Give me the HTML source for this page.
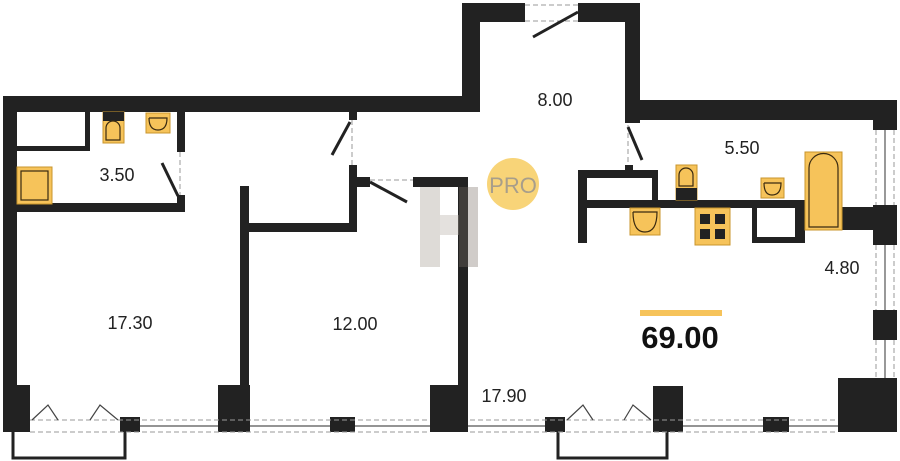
<!DOCTYPE html>
<html><head><style>body{margin:0;background:#fff}svg{display:block}text{font-family:"Liberation Sans",sans-serif;fill:#222}</style></head><body>
<svg width="900" height="461" viewBox="0 0 900 461" xmlns="http://www.w3.org/2000/svg">
<g fill="#222">
<rect x="3" y="96" width="477" height="16"/>
<rect x="3" y="96" width="14" height="336"/>
<rect x="462" y="3" width="18" height="109"/>
<rect x="462" y="3" width="63" height="19"/>
<rect x="578" y="3" width="62" height="19"/>
<rect x="625" y="3" width="15" height="120"/>
<rect x="625" y="100" width="272" height="20"/>
<rect x="873" y="100" width="24" height="30"/>
<rect x="873" y="205" width="24" height="40"/>
<rect x="873" y="310" width="24" height="30"/>
<rect x="838" y="378" width="59" height="54"/>
<rect x="3" y="385" width="27" height="47"/>
<rect x="120" y="417" width="20" height="15"/>
<rect x="218" y="385" width="32" height="47"/>
<rect x="330" y="417" width="25" height="15"/>
<rect x="430" y="385" width="38" height="47"/>
<rect x="545" y="417" width="20" height="15"/>
<rect x="653" y="386" width="30" height="46"/>
<rect x="763" y="417" width="26" height="15"/>
<rect x="240" y="186" width="9" height="200"/>
<rect x="240" y="223" width="117" height="9"/>
<rect x="349" y="112" width="8" height="8"/>
<rect x="349" y="165" width="8" height="67"/>
<rect x="349" y="177" width="21" height="10"/>
<rect x="413" y="177" width="55" height="10"/>
<rect x="458" y="177" width="10" height="208"/>
<rect x="17" y="203" width="168" height="9"/>
<rect x="177" y="112" width="8" height="40"/>
<rect x="177" y="195" width="8" height="17"/>
<rect x="17" y="146" width="73" height="5"/>
<rect x="85" y="112" width="5" height="39"/>
<rect x="625" y="165" width="8" height="7"/>
<rect x="578" y="170" width="9" height="73"/>
<rect x="578" y="170" width="80" height="8"/>
<rect x="652" y="170" width="6" height="32"/>
<rect x="578" y="200" width="222" height="8"/>
<rect x="752" y="200" width="5" height="43"/>
<rect x="752" y="237" width="48" height="6"/>
<rect x="795" y="200" width="10" height="43"/>
<rect x="840" y="207" width="35" height="23"/>
</g>
<path d="M13 432V458H125V432" fill="none" stroke="#222" stroke-width="3"/>
<path d="M558 432V458H667V432" fill="none" stroke="#222" stroke-width="3"/>
<g stroke="#999" stroke-dasharray="5,3" fill="none" stroke-width="1">
<path d="M30 420H430M30 432H430M470 420H838M470 432H838"/>
<path d="M876 130V205M894 130V205M876 245V310M894 245V310M876 340V378M894 340V378"/>
<path d="M525 5H578M525 21H578M352 120V165M370 180H413M180 152V195M628 125V165"/>
</g>
<g stroke="#555" stroke-width="1.2"><path d="M140 426H218M250 426H330M355 426H430M468 426H545M683 426H763M789 426H838M885 130V205M885 245V310M885 340V378"/></g>
<g stroke="#222" stroke-width="3" fill="none">
<path d="M578 12L533 37M350 122L332 155M370 182L407 202M178 196L162 163M628 127L642 160"/>
<path d="M32 420L48 405L58 420M118 420L100 405L90 420M567 420L583 405L593 420M651 420L633 405L624 420" stroke-width="1.2" stroke="#444"/>
</g>
<g fill="#f6c35a" stroke="#c8952c" stroke-width="1">
<rect x="103" y="112" width="21" height="31"/><rect x="146" y="113" width="24" height="20"/>
<rect x="17" y="167" width="35" height="37"/>
<rect x="676" y="165" width="21" height="35"/><rect x="761" y="178" width="23" height="20"/>
<rect x="805" y="152" width="37" height="78"/>
<rect x="630" y="208" width="30" height="27"/><rect x="695" y="208" width="35" height="37"/>
</g>
<g fill="#222"><rect x="103" y="112" width="21" height="9"/><rect x="676" y="188" width="21" height="12"/>
<rect x="700" y="214" width="10" height="10"/><rect x="715" y="214" width="10" height="10"/><rect x="700" y="229" width="10" height="10"/><rect x="715" y="229" width="10" height="10"/></g>
<g fill="none" stroke="#3a2a10" stroke-width="1.2">
<rect x="21" y="171" width="27" height="29"/><path d="M809 227V168A14 14 0 0 1 838 168V227Z"/>
<path d="M106 140V128A7 7 0 0 1 120 128V140Z"/><path d="M679 186V175A7 7 0 0 1 693 175V186Z"/>
<path d="M149 118H167Q167 130 158 130Q149 130 149 118"/><path d="M764 183H781Q781 195 772 195Q764 195 764 183"/><path d="M633 212H657Q657 232 645 232Q633 232 633 212"/>
</g>
<g opacity="0.35"><rect x="420" y="187" width="20" height="80" fill="#a39a90"/><rect x="459" y="187" width="19" height="80" fill="#7a7068"/><rect x="440" y="215" width="19" height="20" fill="#b5aca3"/></g>
<circle cx="513" cy="184" r="26" fill="#f8d478"/>
<text x="513" y="193" font-size="22" text-anchor="middle" style="fill:#a89e8a">PRO</text>
<g font-size="18" text-anchor="middle">
<text x="555" y="106">8.00</text><text x="742" y="154">5.50</text><text x="117" y="181">3.50</text>
<text x="130" y="329">17.30</text><text x="355" y="330">12.00</text><text x="504" y="402">17.90</text><text x="842" y="274">4.80</text>
</g>
<rect x="640" y="310" width="82" height="6" fill="#f6c35a"/>
<text x="680" y="348" font-size="31" font-weight="bold" text-anchor="middle" style="fill:#111">69.00</text>
</svg>
</body></html>
